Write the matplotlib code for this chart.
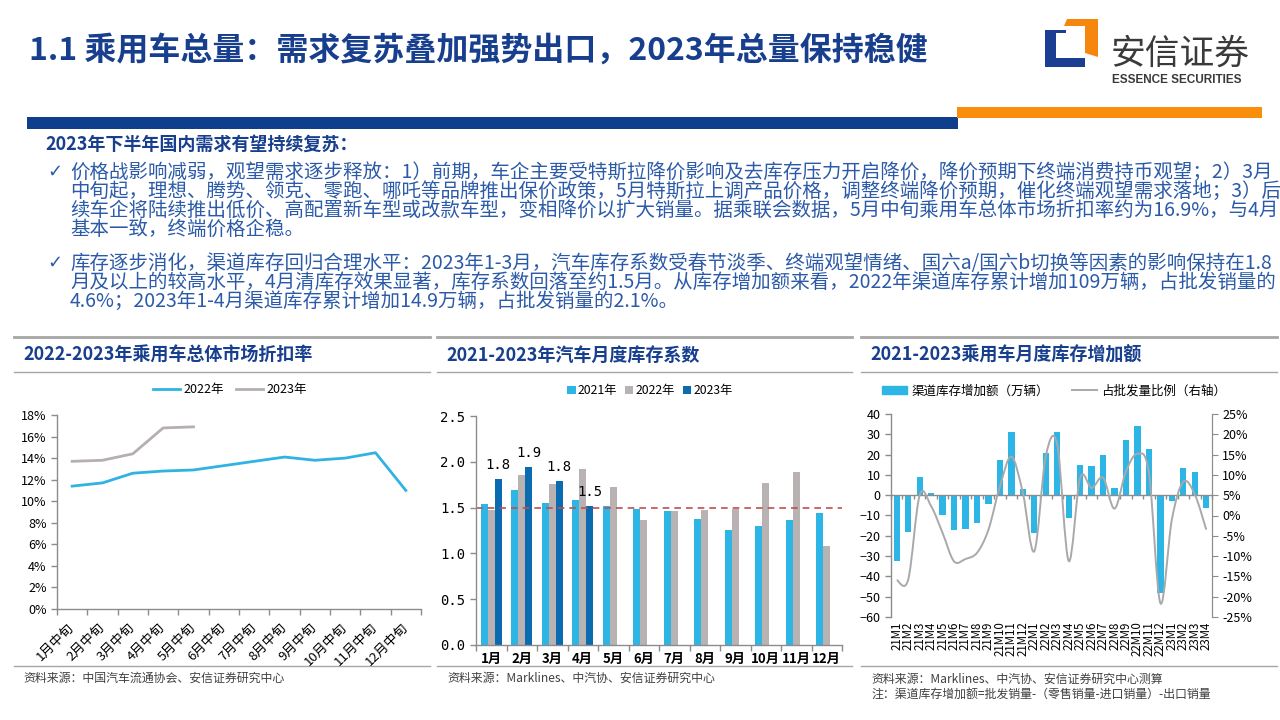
import numpy as np
import matplotlib
matplotlib.use("Agg")
import matplotlib.pyplot as plt
from matplotlib.lines import Line2D
from matplotlib.patches import Polygon, Rectangle, Patch, PathPatch
from matplotlib.path import Path

plt.rcParams['font.family'] = ['Noto Sans CJK SC', 'DejaVu Sans']
plt.rcParams['axes.unicode_minus'] = True

W, H = 1280, 720
NAVY = '#173F8E'
BODY_BLUE = '#2B5AA8'
AXIS_GRAY = '#8C8C8C'
SRC_COLOR = '#404040'

# ---- data: chart 1, discount rate (%)
half_months = ['1月中旬', '2月中旬', '3月中旬', '4月中旬', '5月中旬', '6月中旬',
               '7月中旬', '8月中旬', '9月中旬', '10月中旬', '11月中旬', '12月中旬']
discount_2022 = [11.4, 11.7, 12.6, 12.8, 12.9, 13.3, 13.7, 14.1, 13.8, 14.0, 14.5, 11.0]
discount_2023 = [13.7, 13.8, 14.4, 16.8, 16.9]

# ---- data: chart 2, monthly inventory coefficient
months = ['1月', '2月', '3月', '4月', '5月', '6月', '7月', '8月', '9月', '10月', '11月', '12月']
stock_2021 = [1.54, 1.69, 1.55, 1.58, 1.52, 1.49, 1.46, 1.38, 1.26, 1.30, 1.36, 1.44]
stock_2022 = [1.47, 1.86, 1.76, 1.92, 1.73, 1.37, 1.46, 1.47, 1.48, 1.77, 1.89, 1.08]
stock_2023 = [1.81, 1.94, 1.79, 1.52]
warn_level = 1.5

# ---- data: chart 3, channel inventory change (10k units) and share of wholesale (%)
periods = ['21M1', '21M2', '21M3', '21M4', '21M5', '21M6', '21M7', '21M8', '21M9', '21M10',
           '21M11', '21M12', '22M1', '22M2', '22M3', '22M4', '22M5', '22M6', '22M7', '22M8',
           '22M9', '22M10', '22M11', '22M12', '23M1', '23M2', '23M3', '23M4']
channel_stock = [-32.5, -18.0, 8.9, 1.1, -9.9, -17.3, -16.8, -13.9, -4.5, 17.3, 31.2, 3.2,
                 -18.8, 20.8, 31.2, -11.1, 14.8, 14.6, 19.9, 3.7, 27.4, 34.2, 22.9, -48.4,
                 -3.1, 13.4, 11.5, -6.5]
stock_share = [-15.9, -15.8, 5.0, 2.3, -4.3, -11.3, -10.7, -9.2, -3.5, 7.2, 14.5, 5.6,
               -8.8, 14.6, 17.5, -11.2, 9.3, 6.8, 9.3, 1.7, 10.9, 15.2, 10.5, -21.6,
               -1.0, 8.3, 5.2, -3.5]

title = '1.1 乘用车总量：需求复苏叠加强势出口，2023年总量保持稳健'
heading = '2023年下半年国内需求有望持续复苏：'
bullet1 = ['价格战影响减弱，观望需求逐步释放：1）前期，车企主要受特斯拉降价影响及去库存压力开启降价，降价预期下终端消费持币观望；2）3月',
           '中旬起，理想、腾势、领克、零跑、哪吒等品牌推出保价政策，5月特斯拉上调产品价格，调整终端降价预期，催化终端观望需求落地；3）后',
           '续车企将陆续推出低价、高配置新车型或改款车型，变相降价以扩大销量。据乘联会数据，5月中旬乘用车总体市场折扣率约为16.9%，与4月',
           '基本一致，终端价格企稳。']
bullet2 = ['库存逐步消化，渠道库存回归合理水平：2023年1-3月，汽车库存系数受春节淡季、终端观望情绪、国六a/国六b切换等因素的影响保持在1.8',
           '月及以上的较高水平，4月清库存效果显著，库存系数回落至约1.5月。从库存增加额来看，2022年渠道库存累计增加109万辆，占批发销量的',
           '4.6%；2023年1-4月渠道库存累计增加14.9万辆，占批发销量的2.1%。']


def fx(x):
    return x / W


def fy(y):
    return 1 - y / H


def rect(x0, y0, x1, y1):
    return [x0 / W, 1 - y1 / H, (x1 - x0) / W, (y1 - y0) / H]


def hline(fig, x0, x1, y, lw=1.0, color='#A6A6A6'):
    fig.add_artist(Line2D([fx(x0), fx(x1)], [fy(y), fy(y)], transform=fig.transFigure,
                          color=color, lw=lw))


def smooth_path(xs, ys):
    # Catmull-Rom through the points, written as cubic Bezier segments
    pts = np.column_stack([xs, ys]).astype(float)
    n = len(pts)
    verts = [pts[0]]
    codes = [Path.MOVETO]
    for i in range(n - 1):
        p0 = pts[max(i - 1, 0)]
        p1 = pts[i]
        p2 = pts[i + 1]
        p3 = pts[min(i + 2, n - 1)]
        verts += [p1 + (p2 - p0) / 6, p2 - (p3 - p1) / 6, p2]
        codes += [Path.CURVE4] * 3
    return Path(verts, codes)


fig = plt.figure(figsize=(12.8, 7.2), dpi=100)

# ---- header
fig.text(fx(29), fy(51), title, fontsize=23, fontweight='bold', color=NAVY, va='center', ha='left')
fig.add_artist(Rectangle((fx(27), fy(129)), (958 - 27) / W, 12 / H, transform=fig.transFigure,
                         color='#0F3F8C', lw=0))
fig.add_artist(Rectangle((fx(957), fy(118)), (1262 - 957) / W, 11 / H, transform=fig.transFigure,
                         color='#FA8E0A', lw=0))
# logo
blue_l = [(1045, 30), (1066, 30), (1066, 33), (1056, 33), (1056, 58), (1085, 58), (1085, 67), (1045, 67)]
orange_l = [(1064, 26), (1067, 19), (1098, 19), (1098, 57), (1085, 53), (1085, 26)]
for pts, col in [(blue_l, '#1B3E93'), (orange_l, '#F7860F')]:
    fig.add_artist(Polygon([(fx(a), fy(b)) for a, b in pts], closed=True,
                           transform=fig.transFigure, color=col, lw=0))
fig.text(fx(1111), fy(54), '安信证券', fontsize=25, color='#3A3A3A', va='center', ha='left')
fig.text(fx(1112), fy(80), 'ESSENCE SECURITIES', fontsize=8.5, fontweight='bold', color='#3A3A3A',
         va='center', ha='left', family='Liberation Sans')

# ---- bullet text
fig.text(fx(45), fy(144), heading, fontsize=13, fontweight='bold', color=NAVY, va='center')
for lines, ys in [(bullet1, [172, 191, 210, 229]), (bullet2, [263, 282, 301])]:
    fig.text(fx(47), fy(ys[0]), '✓', fontsize=13, color=BODY_BLUE, va='center',
             family=['DejaVu Sans'])
    for line, y in zip(lines, ys):
        fig.text(fx(70), fy(y), line, fontsize=14, color=BODY_BLUE, va='center')

# ---- panel frames
panels = [(14, 430), (437, 852), (861, 1277)]
for x0, x1 in panels:
    hline(fig, x0, x1, 337, lw=2.0)
    hline(fig, x0, x1, 372, lw=1.0)
    hline(fig, x0, x1, 666, lw=1.0)

panel_titles = ['2022-2023年乘用车总体市场折扣率', '2021-2023年汽车月度库存系数', '2021-2023乘用车月度库存增加额']
for (x0, _), t in zip(panels, panel_titles):
    fig.text(fx(x0 + 9), fy(355), t, fontsize=13, fontweight='bold', color=NAVY, va='center')

fig.text(fx(23), fy(678), '资料来源：中国汽车流通协会、安信证券研究中心', fontsize=8.6, color=SRC_COLOR, va='center')
fig.text(fx(447), fy(678), '资料来源：Marklines、中汽协、安信证券研究中心', fontsize=8.6, color=SRC_COLOR, va='center')
fig.text(fx(871), fy(679), '资料来源：Marklines、中汽协、安信证券研究中心测算', fontsize=8.6, color=SRC_COLOR, va='center')
fig.text(fx(871), fy(694), '注：渠道库存增加额=批发销量-（零售销量-进口销量）-出口销量', fontsize=8.6,
         color=SRC_COLOR, va='center')


def style_axes(ax):
    for s in ['top', 'right']:
        ax.spines[s].set_visible(False)
    for s in ['left', 'bottom']:
        ax.spines[s].set_color(AXIS_GRAY)
        ax.spines[s].set_linewidth(1.0)
    ax.tick_params(colors=AXIS_GRAY, labelcolor='black', length=4, width=1.0)


# ---- chart 1
ax1 = fig.add_axes(rect(57, 415, 421, 609))
x1 = np.arange(len(half_months))
l22, = ax1.plot(x1, discount_2022, color='#30B3E3', lw=2.0, label='2022年')
l23, = ax1.plot(x1[:len(discount_2023)], discount_2023, color='#B5AFB0', lw=2.0, label='2023年')
ax1.set_xlim(-0.5, len(half_months) - 0.5)
ax1.set_ylim(0, 18)
ax1.set_yticks(np.arange(0, 19, 2))
ax1.set_yticklabels([f'{v}%' for v in range(0, 19, 2)], fontsize=9)
ax1.set_xticks(np.arange(-0.5, len(half_months), 1))
ax1.set_xticklabels([])
ax1.set_xticks(x1, half_months, minor=True, rotation=45, ha='right', va='center',
               rotation_mode='anchor', fontsize=9.5)
style_axes(ax1)
ax1.tick_params(axis='x', which='minor', length=0, pad=12)
ax1.legend(handles=[l22, l23], loc='center', bbox_to_anchor=(fx(230), fy(390)),
           bbox_transform=fig.transFigure, ncol=2, frameon=False, fontsize=9,
           handlelength=2.1, columnspacing=1.0, handletextpad=0.3)

# ---- chart 2
ax2 = fig.add_axes(rect(476, 416, 842, 645))
x2 = np.arange(len(months))
bw = 0.225
b21 = ax2.bar(x2 - bw, stock_2021, bw, color='#2DB5E6', label='2021年')
b22 = ax2.bar(x2, stock_2022, bw, color='#B9B2B3', label='2022年')
b23 = ax2.bar(x2[:len(stock_2023)] + bw, stock_2023, bw, color='#0B6BB1', label='2023年')
ax2.bar_label(b23, fmt='%.1f', padding=5, fontsize=10, family='DejaVu Sans Mono')
ax2.axhline(warn_level, color='#C0504D', lw=1.2, ls=(0, (4, 3)))
ax2.set_xlim(-0.5, len(months) - 0.5)
ax2.set_ylim(0, 2.5)
ax2.set_yticks(np.arange(0, 2.51, 0.5))
ax2.set_yticklabels([f'{v:.1f}' for v in np.arange(0, 2.51, 0.5)], fontsize=10, family='DejaVu Sans Mono')
ax2.set_xticks(np.arange(-0.5, len(months), 1))
ax2.set_xticklabels([])
ax2.set_xticks(x2, months, minor=True, fontsize=9.5, fontweight='bold')
style_axes(ax2)
ax2.tick_params(axis='x', which='minor', length=0, pad=5)
ax2.legend(handles=[b21, b22, b23], loc='center', bbox_to_anchor=(fx(650), fy(391)),
           bbox_transform=fig.transFigure, ncol=3, frameon=False, fontsize=8.8,
           handlelength=0.7, handleheight=0.7, columnspacing=0.6, handletextpad=0.2)

# ---- chart 3
ax3 = fig.add_axes(rect(891, 414, 1212, 617))
x3 = np.arange(len(periods))
ax3.bar(x3, channel_stock, 0.55, color='#2DB5E6', zorder=2)
ax3.set_xlim(-0.5, len(periods) - 0.5)
ax3.set_ylim(-60, 40)
ax3.set_yticks(np.arange(-60, 41, 10))
ax3.tick_params(axis='y', labelsize=9)
style_axes(ax3)
ax3.spines['right'].set_visible(True)
ax3.spines['right'].set_color(AXIS_GRAY)
ax3.spines['bottom'].set_position(('data', 0))
ax3.spines['bottom'].set_zorder(3)
ax3.set_xticks(np.arange(-0.5, len(periods), 1))
ax3.tick_params(axis='x', length=3, labelbottom=False)
sec = ax3.secondary_xaxis('bottom')
sec.set_xticks(x3, periods, rotation=90, fontsize=8.3)
sec.tick_params(length=0, pad=3)
sec.spines['bottom'].set_visible(False)

ax3r = ax3.twinx()
ax3r.set_ylim(-25, 25)
ax3r.set_yticks(np.arange(-25, 26, 5))
ax3r.set_yticklabels([f'{v}%' for v in range(-25, 26, 5)], fontsize=9)
for s in ['top', 'bottom', 'left']:
    ax3r.spines[s].set_visible(False)
ax3r.spines['right'].set_color(AXIS_GRAY)
ax3r.tick_params(axis='y', colors=AXIS_GRAY, labelcolor='black', length=4)
ax3r.add_patch(PathPatch(smooth_path(x3, stock_share), fill=False, edgecolor='#A9A9A9', lw=1.4, zorder=3))

h_bar = Patch(color='#2DB5E6', label='渠道库存增加额（万辆）')
h_line = Line2D([], [], color='#A9A9A9', lw=1.4, label='占批发量比例（右轴）')
ax3.legend(handles=[h_bar, h_line], loc='center', bbox_to_anchor=(fx(1054), fy(391)),
           bbox_transform=fig.transFigure, ncol=2, frameon=False, fontsize=9,
           handlelength=2.0, handleheight=0.5, columnspacing=1.8, handletextpad=0.4)

fig.savefig('out.png', dpi=100)
